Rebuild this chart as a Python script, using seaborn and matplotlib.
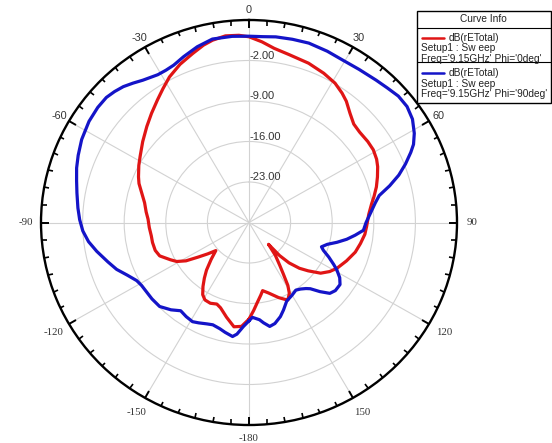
import numpy as np
import pandas as pd
import matplotlib
matplotlib.use("Agg")
import matplotlib.pyplot as plt
from matplotlib.lines import Line2D
from matplotlib.patches import Rectangle
import seaborn as sns

# ---- far-field cuts at 9.15 GHz, dB(rETotal) versus theta (deg) ----
theta_phi0 = [-180, -176, -172, -167, -162, -159, -155, -151, -148, -145, -142, -139,
              -135, -131, -128, -125, -122, -119, -116, -111, -107, -102, -98, -93,
              -88, -84, -79, -74, -70, -67, -62, -58, -52, -46, -41, -36, -32, -28,
              -23, -18, -14, -11, -7, -3, 0, 4, 8, 13, 20, 26, 31, 35, 38, 42, 46,
              50, 55, 59, 63, 66, 70, 74, 78, 81, 86, 92, 96, 101, 106, 112, 118,
              122, 126, 130, 133, 136, 138, 139, 142, 145, 147, 149, 151, 154, 156,
              159, 162, 165, 169, 171, 174, 177, 180]
db_phi0 = [-13.3, -12.0, -11.8, -13.2, -14.5, -14.9, -14.6, -14.7, -15.3, -16.5, -17.8,
           -19.1, -21.0, -22.6, -21.2, -19.6, -17.5, -16.1, -15.3, -13.9, -13.5, -13.4,
           -13.4, -13.2, -13.0, -12.6, -12.1, -11.2, -10.3, -9.8, -9.0, -8.4, -7.3,
           -6.1, -5.0, -3.8, -2.7, -1.5, -0.3, 0.7, 1.6, 2.1, 2.5, 2.4, 2.1, 1.3, 0.4,
           -0.2, -0.7, -1.3, -1.9, -2.7, -3.4, -4.6, -5.5, -5.7, -5.6, -5.6, -5.9,
           -6.3, -7.0, -7.7, -8.5, -9.1, -9.8, -10.2, -10.4, -10.9, -11.4, -12.3,
           -13.2, -14.0, -15.1, -17.0, -18.4, -20.3, -22.3, -25.0, -22.8, -21.0,
           -19.4, -17.3, -16.0, -15.1, -15.5, -16.1, -16.8, -17.4, -18.0, -17.3,
           -16.2, -14.8, -13.3]

theta_phi90 = [-180, -177, -174, -172, -168, -165, -161, -158, -154, -151, -147, -143,
               -139, -134, -129, -125, -121, -118, -114, -110, -106, -101, -97, -93,
               -89, -85, -80, -76, -72, -68, -63, -57, -52, -48, -45, -42, -39, -36,
               -31, -28, -25, -21, -16, -11, -5, 0, 4, 8, 13, 18, 24, 29, 35, 41, 45,
               49, 53, 57, 61, 64, 66, 69, 72, 75, 78, 81, 85, 90, 94, 97, 100, 103,
               106, 109, 111, 114, 117, 119, 122, 125, 129, 132, 135, 138, 140, 143,
               146, 150, 155, 159, 162, 166, 169, 172, 174, 178, 180]
db_phi90 = [-13.0, -12.0, -10.6, -10.1, -10.6, -11.0, -11.3, -11.1, -10.7, -10.4, -10.6,
            -10.9, -10.0, -9.1, -9.0, -9.0, -8.9, -8.6, -7.6, -6.3, -5.3, -3.9, -2.8,
            -2.0, -1.5, -1.1, -0.6, -0.1, 0.5, 1.0, 1.6, 2.1, 2.3, 2.3, 2.0, 1.6, 1.0,
            0.4, -0.2, -0.2, 0.0, 0.7, 1.6, 2.3, 2.3, 2.2, 2.2, 2.4, 2.5, 2.6, 2.4,
            2.2, 2.3, 2.6, 2.9, 3.3, 3.3, 2.8, 1.8, 0.8, -0.2, -1.8, -3.5, -5.5, -7.6,
            -8.5, -9.4, -10.3, -10.7, -12.0, -13.3, -14.8, -16.3, -17.1, -16.6, -15.3,
            -14.0, -13.1, -12.0, -11.3, -11.3, -11.7, -13.1, -14.6, -15.1, -15.6,
            -15.9, -15.5, -15.0, -13.8, -12.9, -12.0, -11.7, -12.5, -13.1, -13.6, -13.0]

curve_names = ["Phi='0deg'", "Phi='90deg'"]
curve_colors = ["#e01515", "#1414c8"]

ring_values = [-23, -16, -9, -2]
ring_labels = ["-23.00", "-16.00", "-9.00", "-2.00"]
r_min, r_max = -30, 5

angle_ticks = [0, 30, 60, 90, 120, 150, 180, 210, 240, 270, 300, 330]
angle_labels = ["0", "30", "60", "90", "120", "150", "-180", "-150", "-120", "-90", "-60", "-30"]

legend_title = "Curve Info"
legend_rows = [["dB(rETotal)", "Setup1 : Sw eep", "Freq='9.15GHz' Phi='0deg'"],
               ["dB(rETotal)", "Setup1 : Sw eep", "Freq='9.15GHz' Phi='90deg'"]]

# ---- long-format table for seaborn ----
df = pd.concat([
    pd.DataFrame({"theta": np.deg2rad(theta_phi0), "dB": db_phi0, "curve": curve_names[0]}),
    pd.DataFrame({"theta": np.deg2rad(theta_phi90), "dB": db_phi90, "curve": curve_names[1]}),
], ignore_index=True)

sns.set_style("white")
plt.rcParams["font.family"] = ["Liberation Sans", "DejaVu Sans"]

W, H = 552, 443
fig = plt.figure(figsize=(W / 100, H / 100), dpi=100)


def fx(x):
    return x / W


def fy(y):
    return 1 - y / H


ax = fig.add_axes([fx(41), 18 / H, 416 / W, 405 / H], projection="polar")
ax.set_aspect("auto")
ax.set_theta_zero_location("N")
ax.set_theta_direction(-1)

sns.lineplot(data=df, x="theta", y="dB", hue="curve", palette=curve_colors,
             sort=False, estimator=None, linewidth=2.3, legend=False, ax=ax)
ax.set_xlabel("")
ax.set_ylabel("")
ax.set_ylim(r_min, r_max)

# grid: rings and spokes, rim ticks every 5 degrees
ax.set_yticks(ring_values)
ax.set_yticklabels([])
ax.set_xticks(np.deg2rad(angle_ticks))
ax.set_xticklabels([])
ax.set_xticks(np.deg2rad(np.arange(0, 360, 5)), minor=True)
ax.grid(True, which="major", color="#d2d2d2", linewidth=0.8)
ax.grid(False, which="minor")
ax.tick_params(axis="x", which="both", bottom=False, top=True, direction="in",
               color="black")
ax.tick_params(axis="x", which="major", length=6.0, width=1.4, pad=0)
ax.tick_params(axis="x", which="minor", length=3.4, width=1.2)
ax.tick_params(axis="y", length=0)
ax.spines["polar"].set_linewidth(1.7)
ax.spines["polar"].set_color("black")

# ring value labels along the 0-degree spoke
for rv, lab in zip(ring_values, ring_labels):
    ax.text(0, rv + 0.85, lab, ha="left", va="center", fontsize=8, color="#333333")

# angle labels outside the rim
for a, lab in zip(angle_ticks, angle_labels):
    ang = a if a <= 180 else a - 360
    upper = abs(ang) < 90
    pad = 1.8 if upper else (2.6 if abs(ang) == 90 else 3.0)
    if abs(ang) == 180:
        pad = 2.4
    fam = ["Liberation Sans", "DejaVu Sans"] if upper else ["Liberation Serif", "DejaVu Serif"]
    ax.text(np.deg2rad(a), r_max + pad, lab, ha="center", va="center",
            fontsize=7.8, family=fam, color="#333333")

# ---- curve info box ----
x0, x1, y0, y1 = 417, 551, 11, 103
fs = 7.3
fig.patches.append(Rectangle((fx(x0), fy(y1)), fx(x1) - fx(x0), fy(y0) - fy(y1),
                             transform=fig.transFigure, fill=True, facecolor="white",
                             edgecolor="black", linewidth=1.0, zorder=5))
for ys in (28.3, 62):
    fig.lines.append(Line2D([fx(x0), fx(x1)], [fy(ys), fy(ys)], transform=fig.transFigure,
                            color="black", linewidth=0.8, zorder=6))
fig.text(fx(483), fy(19), legend_title, ha="center", va="center", fontsize=fs,
         color="#222222", zorder=7)
row_tops = [37.7, 73.3]
for top, rows, col in zip(row_tops, legend_rows, curve_colors):
    fig.lines.append(Line2D([fx(422), fx(444)], [fy(top), fy(top)], transform=fig.transFigure,
                            color=col, linewidth=1.8, zorder=7))
    fig.text(fx(449), fy(top), rows[0], ha="left", va="center", fontsize=fs,
             color="#222222", zorder=7)
    fig.text(fx(421), fy(top + 10.6), rows[1], ha="left", va="center", fontsize=fs,
             color="#222222", zorder=7)
    fig.text(fx(421), fy(top + 20.8), rows[2], ha="left", va="center", fontsize=fs,
             color="#222222", zorder=7)

fig.savefig("out.png", dpi=100, facecolor="white")
